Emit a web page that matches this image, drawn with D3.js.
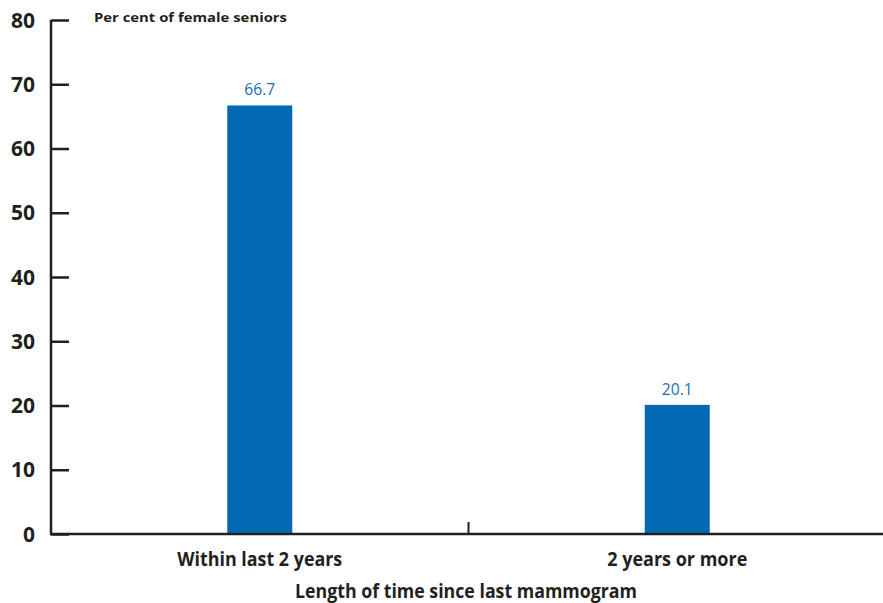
<!DOCTYPE html>
<html>
<head>
<meta charset="utf-8">
<script src="https://cdn.jsdelivr.net/npm/d3@7"></script>
<style>
  body { margin: 0; background: #fff; }
  text { font-family: "Open Sans", "DejaVu Sans", sans-serif; }
</style>
</head>
<body>
<svg id="chart" width="883" height="603"></svg>
<script>
// Mammogram timing among female seniors
const categories = ["Within last 2 years", "2 years or more"];
const values = [66.7, 20.1];
const yTicks = [0, 10, 20, 30, 40, 50, 60, 70, 80];

const svg = d3.select("#chart");
const ink = "#231f20";
const barColor = "#0069b4";
const labelColor = "#1b6db6";

const x = d3.scaleBand().domain(categories).range([51, 886]);
const y = d3.scaleLinear().domain([0, 80]).range([534, 20]);
const barW = 65;

// bars
svg.selectAll("rect.bar").data(values).join("rect")
  .attr("class", "bar")
  .attr("x", (d, i) => x(categories[i]) + x.bandwidth() / 2 - barW / 2)
  .attr("width", barW)
  .attr("y", d => y(d))
  .attr("height", d => y(0) - y(d))
  .attr("fill", barColor);

// value labels
svg.selectAll("text.val").data(values).join("text")
  .attr("class", "val")
  .attr("x", (d, i) => x(categories[i]) + x.bandwidth() / 2)
  .attr("y", d => y(d) - 10)
  .attr("text-anchor", "middle")
  .attr("font-size", 16.5)
  .attr("fill", labelColor)
  .attr("textLength", 31)
  .attr("lengthAdjust", "spacingAndGlyphs")
  .text(d => d.toFixed(1));

// y axis
const yAxis = svg.append("g").attr("transform", "translate(51,0)")
  .call(d3.axisRight(y).tickValues(yTicks).tickSize(18).tickFormat(""));
yAxis.select(".domain").attr("stroke", ink).attr("stroke-width", 2.5)
  .attr("d", `M0,${y(80)}V${y(0)}`);
yAxis.selectAll(".tick line").attr("stroke", ink).attr("stroke-width", 2.5);

svg.selectAll("text.ytick").data(yTicks).join("text")
  .attr("class", "ytick")
  .attr("x", 35)
  .attr("y", d => y(d) + 7.5)
  .attr("text-anchor", "end")
  .attr("font-size", 21)
  .attr("font-weight", 700)
  .attr("fill", ink)
  .text(d => d);

// x axis baseline with divider tick
svg.append("line")
  .attr("x1", 50).attr("x2", 883)
  .attr("y1", y(0)).attr("y2", y(0))
  .attr("stroke", ink).attr("stroke-width", 2.5);
svg.append("line")
  .attr("x1", x(categories[1])).attr("x2", x(categories[1]))
  .attr("y1", y(0) - 12).attr("y2", y(0))
  .attr("stroke", ink).attr("stroke-width", 2);

// category labels
svg.selectAll("text.cat").data(categories).join("text")
  .attr("class", "cat")
  .attr("x", d => x(d) + x.bandwidth() / 2)
  .attr("y", 566)
  .attr("text-anchor", "middle")
  .attr("font-size", 20)
  .attr("font-weight", 700)
  .attr("fill", ink)
  .attr("textLength", (d, i) => i === 0 ? 165 : 140)
  .attr("lengthAdjust", "spacingAndGlyphs")
  .text(d => d);

// axis titles
svg.append("text")
  .attr("x", 466).attr("y", 598)
  .attr("text-anchor", "middle")
  .attr("font-size", 19)
  .attr("font-weight", 700)
  .attr("fill", ink)
  .attr("textLength", 342)
  .attr("lengthAdjust", "spacingAndGlyphs")
  .text("Length of time since last mammogram");

svg.append("text")
  .attr("x", 94).attr("y", 22)
  .attr("font-size", 13)
  .attr("font-weight", 700)
  .attr("fill", ink)
  .attr("textLength", 193)
  .attr("lengthAdjust", "spacingAndGlyphs")
  .text("Per cent of female seniors");
</script>
</body>
</html>
